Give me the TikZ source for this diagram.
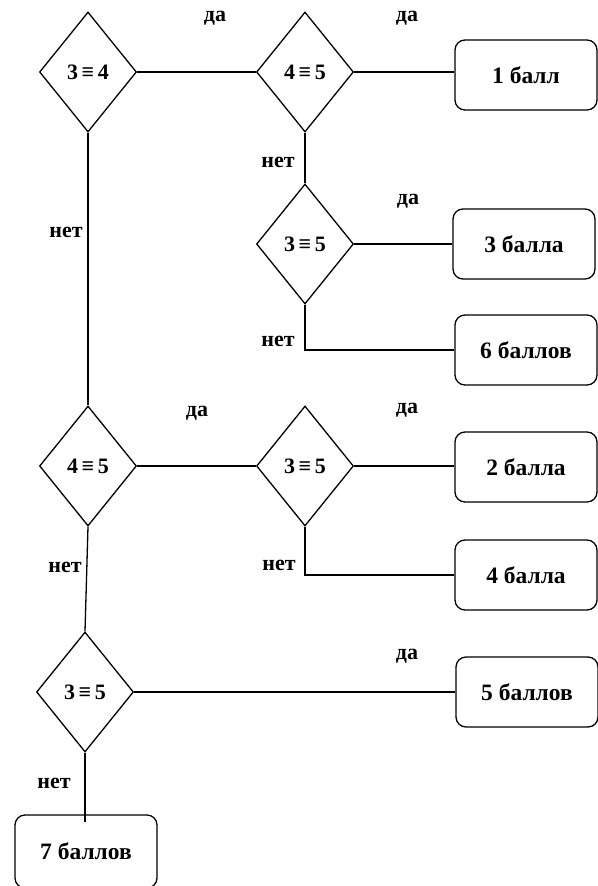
\documentclass[tikz,border=0pt]{standalone}
\usepackage{fontspec}
\setmainfont{Liberation Serif}
\usetikzlibrary{shapes.geometric}
\begin{document}
\begin{tikzpicture}[x=1pt,y=-1pt,
  every node/.style={font=\bfseries\fontsize{22}{26}\selectfont},
  cond/.style={draw,diamond,minimum width=97pt,minimum height=120pt,inner sep=0pt,line width=1.3pt},
  res/.style={draw,rounded corners=10pt,minimum width=142pt,minimum height=70pt,line width=1.3pt,font=\bfseries\fontsize{23.5}{28}\selectfont},
  lbl/.style={inner sep=0pt},
  conn/.style={line width=1.3pt}]
\useasboundingbox (0,0) rectangle (597,886);
% decisions
\node[cond] (d1) at (88,72) {3\,≡\,4};
\node[cond] (d2) at (305,72) {4\,≡\,5};
\node[cond] (d3) at (305,244) {3\,≡\,5};
\node[cond] (d4) at (88,466) {4\,≡\,5};
\node[cond] (d5) at (305,466) {3\,≡\,5};
\node[cond] (d6) at (85,692) {3\,≡\,5};
% results
\node[res] (b1) at (526,75) {1 балл};
\node[res] (b3) at (524,244) {3 балла};
\node[res] (b6) at (526,350) {6 баллов};
\node[res] (b2) at (526,467) {2 балла};
\node[res] (b4) at (526,575) {4 балла};
\node[res] (b5) at (527,692) {5 баллов};
\node[res,minimum height=73pt] (b7) at (86,851.5) {7 баллов};
\coordinate (e7) at (85,822);
% connectors
\draw[conn] (d1.east) -- (d2.west);
\draw[conn] (d2.east) -- (d2.east -| b1.west);
\draw[conn] (d2.south) -- (d3.north);
\draw[conn] (d3.east) -- (b3.west);
\draw[conn] (d3.south) |- (b6.west);
\draw[conn] (d1.south) -- (d4.north);
\draw[conn] (d4.east) -- (d5.west);
\draw[conn] (d5.east) -- (d5.east -| b2.west);
\draw[conn] (d5.south) |- (b4.west);
\draw[conn] (d4.south) -- (d6.north);
\draw[conn] (d6.east) -- (b5.west);
\draw[conn] (d6.south) -- (e7);
% labels
\node[lbl] (l1) at (215,18) {да};
\node[lbl] (l2) at (407,18) {да};
\node[lbl] (l3) at (278,162) {нет};
\node[lbl] (l4) at (408,201) {да};
\node[lbl] (l5) at (278,341) {нет};
\node[lbl] (l6) at (66,232) {нет};
\node[lbl] (l7) at (197,413) {да};
\node[lbl] (l8) at (407,410) {да};
\node[lbl] (l9) at (279,565) {нет};
\node[lbl] (l10) at (65,567) {нет};
\node[lbl] (l11) at (407,656) {да};
\node[lbl] (l12) at (54,783) {нет};
\end{tikzpicture}
\end{document}
